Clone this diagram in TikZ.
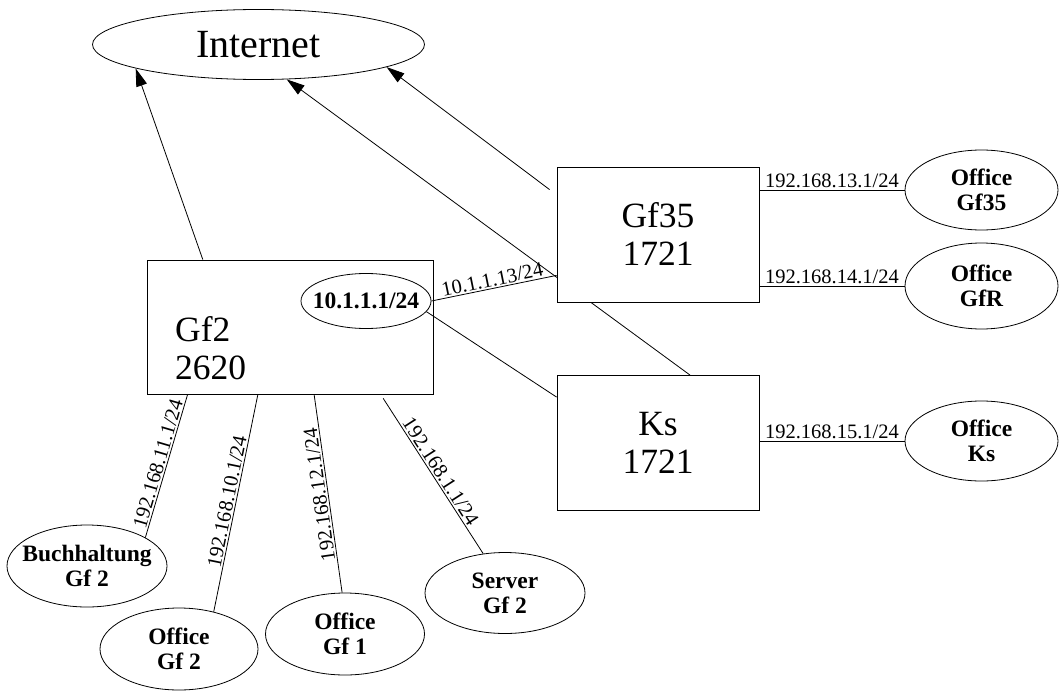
\documentclass[tikz,border=0pt]{standalone}
\usepackage{fontspec}
\setmainfont{Liberation Serif}
\usetikzlibrary{shapes.geometric,arrows.meta,calc}

\begin{document}
\begin{tikzpicture}[x=1pt, y=-1pt,
    box/.style={rectangle, draw, fill=white, line width=0.8pt, minimum width=202pt,
      minimum height=135pt, align=center, font=\fontsize{35.5}{38}\selectfont},
    site/.style={ellipse, draw, fill=white, line width=0.8pt, inner sep=0pt,
      minimum width=159pt, minimum height=82pt, align=center,
      font=\fontsize{23.5}{25}\selectfont\bfseries},
    link/.style={line width=0.8pt},
    uplink/.style={link, -{Triangle[length=18pt,width=11pt]}},
    addr/.style={font=\fontsize{20.5}{22}\selectfont, sloped, allow upside down,
      above, inner sep=1.5pt}
  ]
  \useasboundingbox (0,0) rectangle (1059,690);

  % upstream
  \node[ellipse, draw, line width=0.8pt, minimum width=332pt, minimum height=70pt,
    inner sep=0pt, font=\fontsize{40}{42}\selectfont] (internet) at (258.5,44.5) {Internet};

  % routers
  \node[box] (ks) at (658,443) {Ks\\1721};
  \draw[uplink] ($(ks.north west)!0.658!(ks.north east)$) -- (internet.309);
  \node[box] (gf35) at (658,234.5) {Gf35\\1721};
  \node[box, minimum width=286pt, minimum height=134pt] (gf2) at (290,327) {};
  \node[anchor=west, align=left, inner sep=0pt, font=\fontsize{35.5}{38}\selectfont]
    (gf2txt) at (175,348) {Gf2\\2620};
  \node[site, minimum width=130pt, minimum height=55pt, inner xsep=-8pt] (net) at (366,301) {10.1.1.1/24};

  % offices
  \node[site, minimum width=153pt, minimum height=80pt] (o35) at (981.5,190) {Office\\Gf35};
  \node[site, minimum width=153pt, minimum height=86pt] (ogfr) at (981.5,286) {Office\\GfR};
  \node[site, minimum width=153pt, minimum height=80pt] (oks) at (981.5,441) {Office\\Ks};
  \node[site, inner xsep=-9pt, minimum width=160pt] (buch) at (87,566) {Buchhaltung\\Gf 2};
  \node[site, minimum width=158pt] (ogf2) at (179,649) {Office\\Gf 2};
  \node[site] (ogf1) at (345,634) {Office\\Gf 1};
  \node[site, minimum width=160pt, minimum height=81pt] (server) at (505,593) {Server\\Gf 2};

  % uplinks
  \draw[uplink] ($(gf2.north west)!0.196!(gf2.north east)$) -- (internet.191);
  \draw[uplink] ($(gf35.north west)+(-7,23)$) -- (internet.350);

  % backbone
  \draw[link] (net.east) -- node[addr] {10.1.1.13/24} ($(gf35.south west)+(0,-27)$);
  \draw[link] (net.350) -- ($(ks.north west)+(0,22)$);

  % office links
  \draw[link] (o35.west -| gf35.east) -- node[addr] {192.168.13.1/24} (o35.west);
  \draw[link] (ogfr.west -| gf35.east) -- node[addr] {192.168.14.1/24} (ogfr.west);
  \draw[link] (oks.west -| ks.east) -- node[addr] {192.168.15.1/24} (oks.west);
  \draw[link] (buch.26) -- node[addr] {192.168.11.1/24} ($(gf2.south west)!0.143!(gf2.south east)$);
  \draw[link] (ogf2.47) -- node[addr] {192.168.10.1/24} ($(gf2.south west)!0.388!(gf2.south east)$);
  \draw[link] (ogf1.94) -- node[addr] {192.168.12.1/24} ($(gf2.south west)!0.584!(gf2.south east)$);
  \draw[link] ($(gf2.south west)!0.825!(gf2.south east)+(0,4)$) -- node[addr] {192.168.1.1/24} (server.119);
\end{tikzpicture}
\end{document}
